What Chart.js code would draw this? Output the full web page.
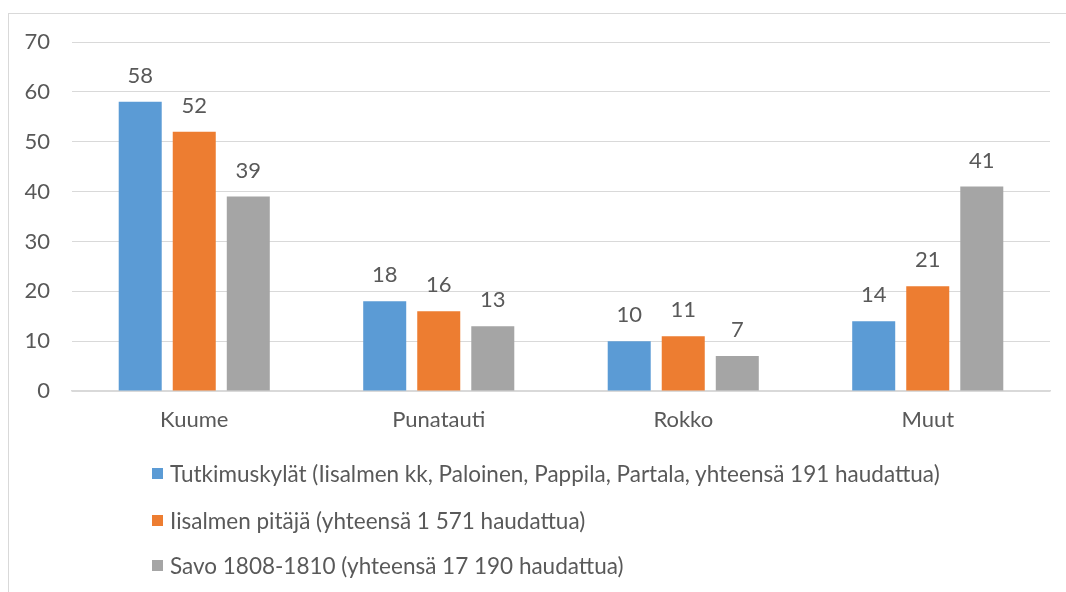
<!DOCTYPE html>
<html>
<head>
<meta charset="utf-8">
<script src="https://cdn.jsdelivr.net/npm/chart.js@4.4.1/dist/chart.umd.min.js"></script>
<style>
  html, body { margin: 0; padding: 0; background: #fff; width: 1066px; height: 592px; overflow: hidden; }
  #frame { position: absolute; left: 8px; top: 13px; width: 1100px; height: 700px; border: 1px solid #d9d9d9; box-sizing: border-box; }
  #wrap { position: absolute; left: 0; top: 0; width: 1066px; height: 592px; }
  #legend { position: absolute; left: 152px; top: 0; font-family: Lato, sans-serif; font-size: 22.5px; color: #595959; }
  .item { position: absolute; left: 0; white-space: nowrap; display: flex; align-items: center; }
  .sw { width: 11px; height: 11px; margin-right: 7px; flex: none; }
</style>
</head>
<body>
<div id="frame"></div>
<div id="wrap"><canvas id="c" width="1066" height="592"></canvas></div>
<div id="legend"></div>
<script>
const categories = ["Kuume", "Punatauti", "Rokko", "Muut"];
const seriesNames = [
  "Tutkimuskylät (Iisalmen kk, Paloinen, Pappila, Partala, yhteensä 191 haudattua)",
  "Iisalmen pitäjä (yhteensä 1 571 haudattua)",
  "Savo 1808-1810 (yhteensä 17 190 haudattua)"
];
const tutkimuskylat = [58, 18, 10, 14];
const iisalmenPitaja = [52, 16, 11, 21];
const savo = [39, 13, 7, 41];
const seriesColors = ["#5B9BD5", "#ED7D31", "#A5A5A5"];
const yTicks = [0, 10, 20, 30, 40, 50, 60, 70];

const FONT = "Lato, sans-serif";
const TXT = "#595959";
const FS = 22;

const valueLabels = {
  id: "valueLabels",
  afterDatasetsDraw(chart) {
    const ctx = chart.ctx;
    ctx.save();
    ctx.font = FS + "px " + FONT;
    ctx.fillStyle = TXT;
    ctx.textAlign = "center";
    ctx.textBaseline = "bottom";
    chart.data.datasets.forEach((ds, i) => {
      const meta = chart.getDatasetMeta(i);
      meta.data.forEach((el, j) => {
        ctx.fillText(String(ds.data[j]), el.x, el.y - 15);
      });
    });
    ctx.restore();
  }
};

const chart = new Chart(document.getElementById("c"), {
  type: "bar",
  data: {
    labels: categories,
    datasets: [
      { label: seriesNames[0], data: tutkimuskylat, backgroundColor: seriesColors[0] },
      { label: seriesNames[1], data: iisalmenPitaja, backgroundColor: seriesColors[1] },
      { label: seriesNames[2], data: savo, backgroundColor: seriesColors[2] }
    ]
  },
  options: {
    responsive: false,
    animation: false,
    devicePixelRatio: 1,
    layout: { padding: { left: 0, right: 16, top: 42, bottom: 151 } },
    datasets: { bar: { categoryPercentage: 0.663, barPercentage: 0.796 } },
    plugins: { legend: { display: false }, tooltip: { enabled: false } },
    scales: {
      x: {
        grid: { display: false, drawTicks: false },
        border: { display: true, color: "#d9d9d9", width: 1.5 },
        ticks: { color: TXT, font: { family: FONT, size: FS }, padding: 16, maxRotation: 0 },
        afterFit(s) { s.height = 50; }
      },
      y: {
        min: 0, max: 70,
        afterBuildTicks(s) { s.ticks = yTicks.map(v => ({ value: v })); },
        grid: { color: "#d9d9d9", lineWidth: 1, drawTicks: false },
        border: { display: false },
        ticks: { color: TXT, font: { family: FONT, size: FS }, padding: 22 },
        afterFit(s) { s.width = 72; }
      }
    }
  },
  plugins: [valueLabels]
});

// HTML legend built from the chart's datasets
const legendEl = document.getElementById("legend");
const rowY = [473, 520, 565];
chart.data.datasets.forEach((ds, i) => {
  const it = document.createElement("div");
  it.className = "item";
  it.style.top = (rowY[i] - 14) + "px";
  it.style.height = "28px";
  const sw = document.createElement("span");
  sw.className = "sw";
  sw.style.background = ds.backgroundColor;
  const tx = document.createElement("span");
  tx.textContent = ds.label;
  it.appendChild(sw); it.appendChild(tx);
  legendEl.appendChild(it);
});
</script>
</body>
</html>
